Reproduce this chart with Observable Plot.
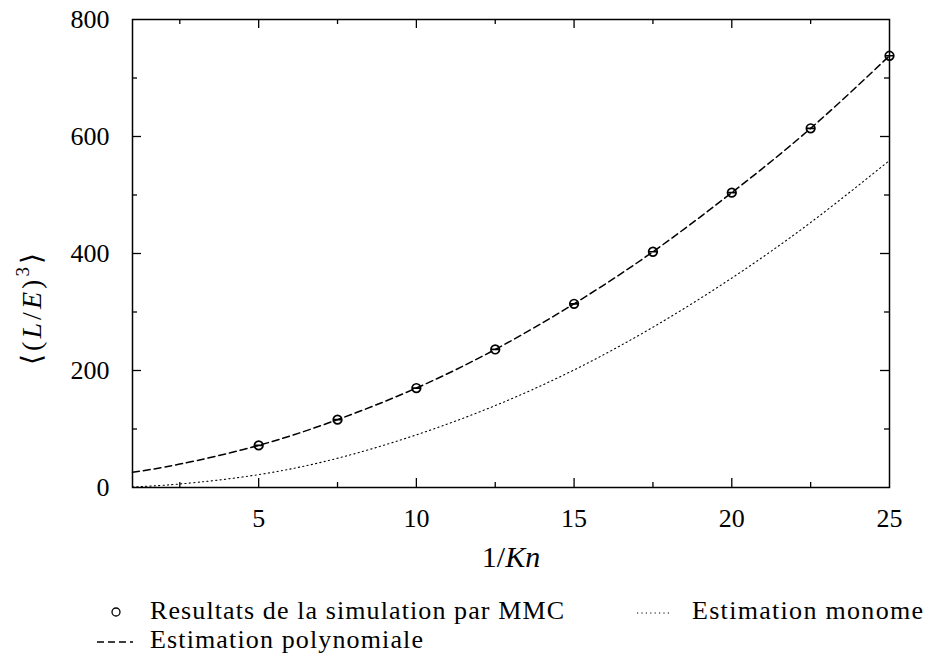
<!DOCTYPE html>
<html><head><meta charset="utf-8">
<script src="https://cdn.jsdelivr.net/npm/d3@7"></script>
<script src="https://cdn.jsdelivr.net/npm/@observablehq/plot@0.6"></script>
<style>body{margin:0;background:#fff;} svg{display:block} svg text{font-family:"Liberation Serif",serif;}</style>
</head><body><div id="chart"></div>
<script>
// Simulation points (MMC)
const xSim = [5, 7.5, 10, 12.5, 15, 17.5, 20, 22.5, 25];
const ySim = [72, 116, 170, 236, 314, 403, 504, 614, 738];
// Curves
const xCurve = [1, 2.5, 5, 7.5, 10, 12.5, 15, 17.5, 20, 22.5, 25];
const yPoly = [26, 40, 72, 116, 170, 236, 314, 403, 504, 614, 738];
const yMono = [1, 6, 22, 50, 90, 140, 201, 274, 358, 453, 559];
// Ticks
const xLabels = [5, 10, 15, 20, 25];
const xMajor = [5, 10, 15, 20];
const xMinor = [2.5, 7.5, 12.5, 17.5, 22.5];
const yLabels = [0, 200, 400, 600, 800];
const yMajor = [200, 400, 600];
const yMinor = [100, 300, 500, 700];
const legendLabels = ["Resultats de la simulation par MMC", "Estimation monome", "Estimation polynomiale"];

const simData = xSim.map((x, i) => ({x, y: ySim[i]}));
const polyData = xCurve.map((x, i) => ({x, y: yPoly[i]}));
const monoData = xCurve.map((x, i) => ({x, y: yMono[i]}));

const W = 927, H = 580, mL = 132, mR = 38, mT = 19, mB = 93;
const innerH = H - mT - mB, innerW = W - mL - mR;
const font = "Liberation Serif";
const FS = 26;

const circleBar = {
  draw(ctx, size) {
    const r = Math.sqrt(size / Math.PI);
    ctx.moveTo(r, 0);
    ctx.arc(0, 0, r, 0, 2 * Math.PI);
    ctx.moveTo(-r, 0);
    ctx.lineTo(r, 0);
  }
};

const tk = {stroke: "black", strokeWidth: 1.3};
const plot = Plot.plot({
  width: W, height: H,
  marginLeft: mL, marginRight: mR, marginTop: mT, marginBottom: mB,
  style: {fontFamily: font, fontSize: FS + "px", color: "black", background: "white"},
  x: {domain: [1, 25]},
  y: {domain: [0, 800]},
  marks: [
    Plot.axisX(xLabels, {tickSize: 0, tickPadding: 21, fontSize: FS, fontFamily: font, label: null}),
    Plot.axisY(yLabels, {tickSize: 0, tickPadding: 23, fontSize: FS, fontFamily: font, label: null}),
    Plot.tickX(xMajor, {x: d => d, insetTop: innerH - 9, ...tk}),
    Plot.tickX(xMajor, {x: d => d, insetBottom: innerH - 9, ...tk}),
    Plot.tickX(xMinor, {x: d => d, insetTop: innerH - 5, ...tk}),
    Plot.tickX(xMinor, {x: d => d, insetBottom: innerH - 5, ...tk}),
    Plot.tickY(yMajor, {y: d => d, insetRight: innerW - 9, ...tk}),
    Plot.tickY(yMajor, {y: d => d, insetLeft: innerW - 9, ...tk}),
    Plot.tickY(yMinor, {y: d => d, insetRight: innerW - 5, ...tk}),
    Plot.tickY(yMinor, {y: d => d, insetLeft: innerW - 5, ...tk}),
    Plot.line(monoData, {x: "x", y: "y", curve: "natural", stroke: "black", strokeWidth: 1.1, strokeDasharray: "1.2,3.2"}),
    Plot.line(polyData, {x: "x", y: "y", curve: "natural", stroke: "black", strokeWidth: 1.5, strokeDasharray: "7,4"}),
    Plot.dot(simData, {x: "x", y: "y", symbol: circleBar, r: 4.3, stroke: "black", strokeWidth: 1.7, fill: "none"}),
    Plot.frame({stroke: "black", strokeWidth: 1.5})
  ]
});

// Axis labels with math styling
const svg = d3.select(plot);
const xl = svg.append("text")
  .attr("x", 511).attr("y", 567)
  .attr("text-anchor", "middle")
  .attr("font-size", 30).attr("fill", "black");
xl.append("tspan").text("1/");
xl.append("tspan").attr("font-style", "italic").text("Kn");

const yl = svg.append("text")
  .attr("transform", `translate(41,309) rotate(-90)`)
  .attr("textLength", 112).attr("lengthAdjust", "spacing")
  .attr("font-size", 28).attr("fill", "black");
yl.append("tspan").text("\u27E8(");
yl.append("tspan").attr("font-style", "italic").text("L");
yl.append("tspan").text("/");
yl.append("tspan").attr("font-style", "italic").text("E");
yl.append("tspan").text(")");
yl.append("tspan").attr("font-size", 19).attr("dy", -12).text("3");
yl.append("tspan").attr("dy", 12).text("\u27E9");

document.getElementById("chart").appendChild(plot);

// Legend below
const leg = d3.select("#chart").append("svg")
  .attr("width", W).attr("height", 659 - H)
  .style("background", "white");
const lt = (x, y, s, len) => leg.append("text").attr("x", x).attr("y", y)
  .attr("textLength", len).attr("lengthAdjust", "spacing")
  .attr("font-size", FS).attr("fill", "black").text(s);
leg.append("circle").attr("cx", 116).attr("cy", 32).attr("r", 4)
  .attr("fill", "none").attr("stroke", "black").attr("stroke-width", 1.3);
lt(150, 39, legendLabels[0], 414);
leg.append("line").attr("x1", 637).attr("x2", 672).attr("y1", 33).attr("y2", 33)
  .attr("stroke", "black").attr("stroke-width", 1.1).attr("stroke-dasharray", "1.2,3.2");
lt(692, 39, legendLabels[1], 231);
leg.append("line").attr("x1", 97).attr("x2", 133).attr("y1", 62).attr("y2", 62)
  .attr("stroke", "black").attr("stroke-width", 1.5).attr("stroke-dasharray", "7,4");
lt(150, 68, legendLabels[2], 273);
</script>
</body></html>
